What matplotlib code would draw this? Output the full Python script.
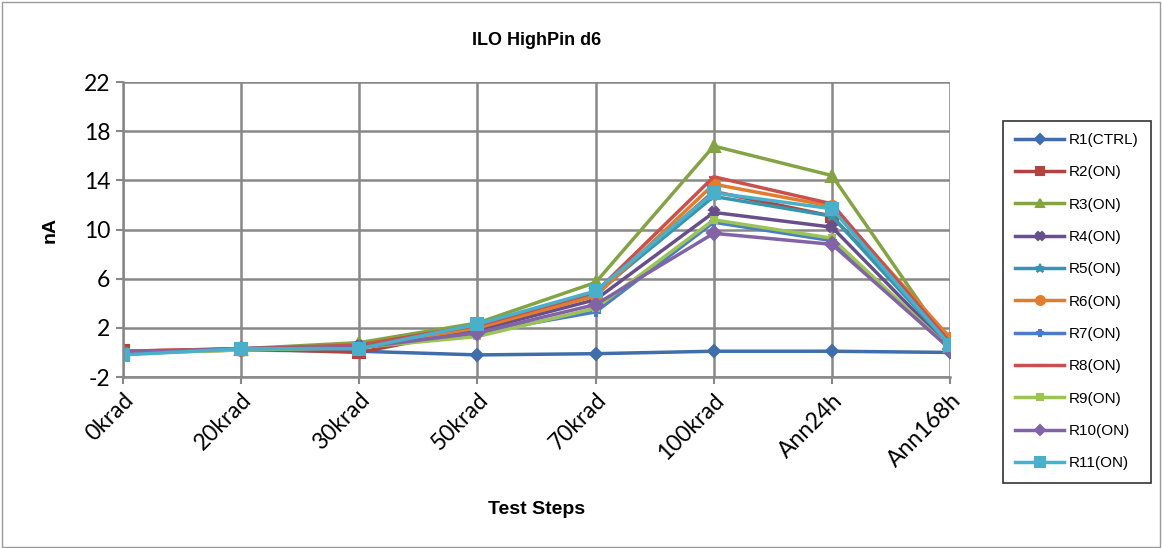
import numpy as np
import matplotlib.pyplot as plt
from matplotlib.patches import Rectangle

plt.rcParams["axes.unicode_minus"] = False

steps = ["0krad", "20krad", "30krad", "50krad", "70krad", "100krad", "Ann24h", "Ann168h"]

r1 = [0.0, 0.2, 0.1, -0.2, -0.1, 0.1, 0.1, 0.0]
r2 = [0.1, 0.3, 0.0, 1.9, 4.7, 13.1, 11.1, 0.9]
r3 = [0.0, 0.3, 0.8, 2.4, 5.7, 16.8, 14.4, 0.5]
r4 = [0.0, 0.3, 0.5, 1.8, 4.3, 11.4, 10.2, 0.4]
r5 = [-0.1, 0.3, 0.5, 2.1, 4.8, 12.7, 11.1, 0.6]
r6 = [0.0, 0.2, 0.4, 2.0, 4.6, 13.7, 11.9, 1.2]
r7 = [-0.1, 0.3, 0.4, 1.6, 3.3, 10.6, 9.1, 0.3]
r8 = [0.1, 0.3, 0.6, 2.2, 4.9, 14.3, 12.1, 0.8]
r9 = [-0.1, 0.2, 0.4, 1.3, 3.6, 10.8, 9.3, 0.3]
r10 = [0.0, 0.3, 0.4, 1.6, 3.9, 9.7, 8.8, 0.3]
r11 = [-0.2, 0.3, 0.3, 2.3, 5.0, 13.0, 11.7, 0.6]

series = [
    ("R1(CTRL)", r1, "#3F6EAA", "D", 6),
    ("R2(ON)", r2, "#B2433F", "s", 8),
    ("R3(ON)", r3, "#84A344", "^", 8),
    ("R4(ON)", r4, "#684E8A", "X", 7),
    ("R5(ON)", r5, "#3796AD", "*", 8),
    ("R6(ON)", r6, "#E27D2D", "o", 8),
    ("R7(ON)", r7, "#4A7EC4", "P", 6),
    ("R8(ON)", r8, "#C9504C", "_", 7),
    ("R9(ON)", r9, "#9CC356", "s", 5),
    ("R10(ON)", r10, "#8264A6", "D", 7),
    ("R11(ON)", r11, "#4AAFCB", "s", 9),
]

fig = plt.figure(figsize=(11.62, 5.48), dpi=100)
ax = fig.add_axes([0.1059, 0.312, 0.7117, 0.538])
fig.patches.append(Rectangle((0.002, 0.002), 0.996, 0.994, transform=fig.transFigure,
                             fill=False, edgecolor="#999999", linewidth=1))

x = np.arange(len(steps))
for name, vals, col, mk, ms in series:
    ax.plot(x, vals, color=col, marker=mk, markersize=ms, linewidth=2.5,
            markeredgecolor=col, markeredgewidth=1.5, label=name)

ax.set_xlim(0, len(steps) - 1)
ax.set_ylim(-2, 22)
ax.set_yticks(np.arange(-2, 23, 4))
ax.set_xticks(x)
ax.set_xticklabels(steps, rotation=45, ha="right", rotation_mode="anchor",
                   fontsize=16.5, family="Lato")
for t in ax.get_yticklabels():
    t.set_fontsize(16.5)
    t.set_family("Lato")
ax.grid(True, color="#888888", linewidth=1.8)
ax.set_axisbelow(True)
for s in ["top", "right"]:
    ax.spines[s].set_visible(False)
ax.spines["left"].set_color("#888888")
ax.spines["left"].set_linewidth(1.8)
ax.spines["bottom"].set_color("#888888")
ax.spines["bottom"].set_linewidth(1.8)
ax.tick_params(axis="both", color="#888888", width=1.5, length=5, pad=4)

ax.set_title("ILO HighPin d6", fontsize=13, fontweight="bold", family="Liberation Sans", pad=27)
ax.set_ylabel("nA", fontsize=14, fontweight="bold", family="Liberation Sans", labelpad=18)
ax.set_xlabel("Test Steps", fontsize=14, fontweight="bold", family="Liberation Sans", labelpad=22)

leg = ax.legend(loc="upper left", bbox_to_anchor=(1.055, 0.895), frameon=True, fancybox=False,
                edgecolor="black", prop={"family": "Liberation Sans", "size": 11},
                labelspacing=1.2, handlelength=3.2, borderpad=0.8, handletextpad=0.3,
                markerscale=0.8)
leg.get_frame().set_linewidth(1.2)

fig.savefig("out.png", dpi=100)
